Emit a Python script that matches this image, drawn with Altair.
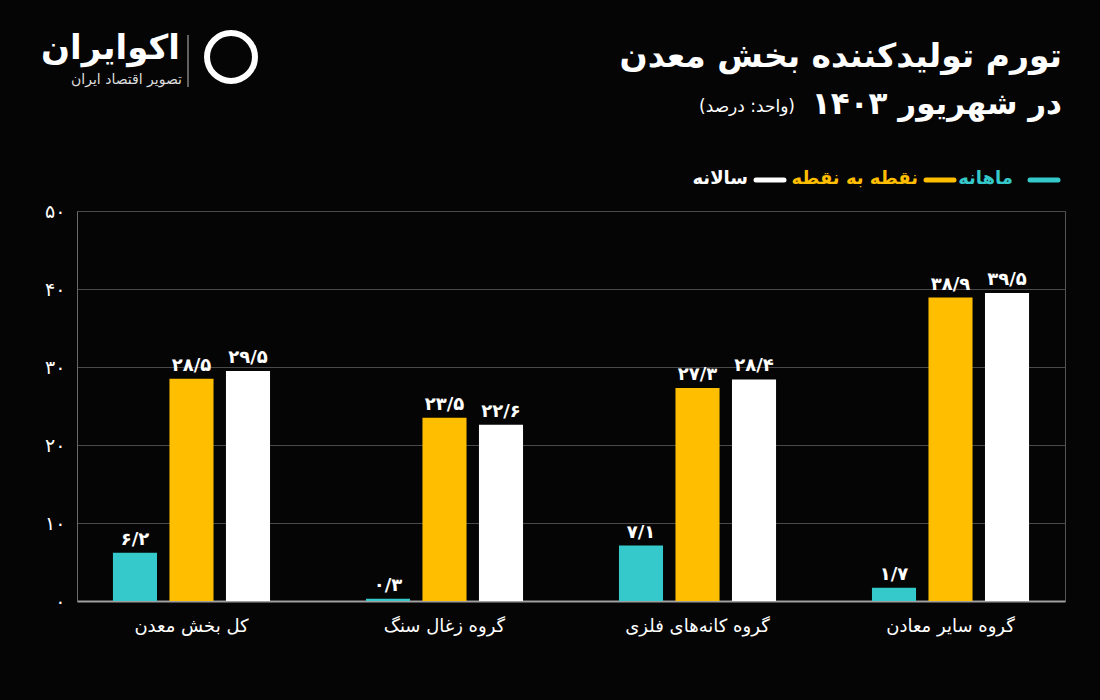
import altair as alt
import pandas as pd

# ---------------- data ----------------
categories = ["کل بخش معدن", "گروه زغال سنگ", "گروه کانه‌های فلزی", "گروه سایر معادن"]
series_names = ["ماهانه", "نقطه به نقطه", "سالانه"]
monthly = [6.2, 0.3, 7.1, 1.7]
point_to_point = [28.5, 23.5, 27.3, 38.9]
annual = [29.5, 22.6, 28.4, 39.5]
y_ticks = [0, 10, 20, 30, 40, 50]
series_colors = ["#35C9CB", "#FFBE00", "#FFFFFF"]

title_line1 = "تورم تولیدکننده بخش معدن"
title_line2 = "در شهریور ۱۴۰۳"
title_unit = "(واحد: درصد)"
logo_name = "اکوایران"
logo_tag = "تصویر اقتصاد ایران"

FONT = "DejaVu Sans"
PERSIAN = str.maketrans("0123456789.", "۰۱۲۳۴۵۶۷۸۹/")


def fa(v):
    return str(v).translate(PERSIAN)


rows = []
for i, cat in enumerate(categories):
    for name, vals in zip(series_names, [monthly, point_to_point, annual]):
        rows.append({"category": cat, "series": name, "value": vals[i], "label": fa(vals[i])})
df = pd.DataFrame(rows)

fa_ticks = "[" + ",".join("'" + fa(t) + "'" for t in y_ticks) + "]"
num_ticks = "[" + ",".join(str(t) for t in y_ticks) + "]"
label_expr = f"{fa_ticks}[indexof({num_ticks}, datum.value)]"

base = alt.Chart(df).encode(
    x=alt.X(
        "category:N",
        sort=categories,
        scale=alt.Scale(paddingInner=0.33, paddingOuter=0.1175),
        axis=alt.Axis(
            title=None, labelAngle=0, labelColor="#FFFFFF", labelFontSize=18,
            labelFont=FONT, labelPadding=16, ticks=False,
            domainColor="#A0A0A0", domainWidth=2,
        ),
    ),
    xOffset=alt.XOffset(
        "series:N", sort=series_names,
        scale=alt.Scale(paddingInner=0.22, paddingOuter=0.11),
    ),
)

bars = base.mark_bar().encode(
    y=alt.Y(
        "value:Q",
        scale=alt.Scale(domain=[0, 50]),
        axis=alt.Axis(
            title=None, values=y_ticks, labelExpr=label_expr, ticks=False,
            labelColor="#FFFFFF", labelFontSize=19, labelFont=FONT, labelPadding=12,
            gridColor="#4A4A4A", gridWidth=1, domainColor="#6A6A6A",
        ),
    ),
    color=alt.Color(
        "series:N",
        scale=alt.Scale(domain=series_names, range=series_colors),
        legend=None,
    ),
)

labels = base.mark_text(
    dy=-13, color="#FFFFFF", fontSize=18, fontWeight="bold", font=FONT
).encode(y="value:Q", text="label:N")

one = pd.DataFrame({"k": [0]})


def deco_text(txt, x, y, size, weight="bold", color="#FFFFFF", align="right"):
    return alt.Chart(pd.DataFrame({"t": [txt]})).mark_text(
        align=align, baseline="middle", font=FONT, fontSize=size,
        fontWeight=weight, color=color, dir="rtl",
    ).encode(x=alt.value(x), y=alt.value(y), text="t:N")


def hline(x1, x2, y, color, width):
    return alt.Chart(one).mark_rule(color=color, strokeWidth=width, strokeCap="round").encode(
        x=alt.value(x1), x2=alt.value(x2), y=alt.value(y)
    )


# legend (right-to-left: symbol on the right of each label)
legend_label_right = [936, 841, 671]
legend_line_x = [(953, 981), (849, 877), (679, 707)]
legend_layers = []
for name, col, lx, (a, b) in zip(series_names, series_colors, legend_label_right, legend_line_x):
    legend_layers.append(hline(a, b, -31, col, 5))
    legend_layers.append(deco_text(name, lx, -32, 18, color=col))

t1 = deco_text(title_line1, 985, -154, 33)
t2 = deco_text(title_line2, 985, -106, 31)
t3 = deco_text(title_unit, 718, -104, 17, weight="normal")
l1 = deco_text(logo_name, 103, -162, 34)
l2 = deco_text(logo_tag, 105, -131, 14, weight="normal", color="#DDDDDD")
sep = alt.Chart(one).mark_rule(color="#BBBBBB", strokeWidth=1).encode(
    x=alt.value(111), y=alt.value(-176), y2=alt.value(-124)
)
icon = alt.Chart(one).mark_point(
    shape="circle", filled=False, color="#FFFFFF", strokeWidth=6, size=2300, opacity=1
).encode(x=alt.value(154), y=alt.value(-154))

chart = alt.layer(bars, labels, t1, t2, t3, l1, l2, sep, icon, *legend_layers).properties(
    width=988,
    height=390,
    padding={"left": 77, "top": 211, "right": 35, "bottom": 99},
    autosize=alt.AutoSizeParams(type="none"),
    background="#050505",
).configure_view(stroke="#555555", strokeWidth=1)

chart.save("out.html", embed_options={"renderer": "svg", "actions": False})
